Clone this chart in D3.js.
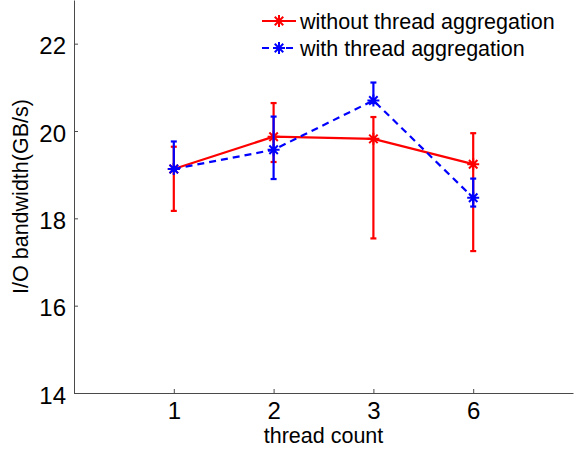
<!DOCTYPE html>
<html>
<head>
<meta charset="utf-8">
<script src="https://cdn.jsdelivr.net/npm/d3@7"></script>
<style>
  html, body { margin: 0; padding: 0; background: #fff; }
  svg { display: block; font-family: "Liberation Sans", Arial, Helvetica, sans-serif; }
</style>
</head>
<body>
<svg id="chart" width="575" height="451"></svg>
<script>
// Thread counts on the x axis (placed at positions 1..4)
const threadCounts = ["1", "2", "3", "6"];

// I/O bandwidth (GB/s): mean, upper and lower error-bar ends
const withoutMean  = [19.13, 19.87, 19.82, 19.24];
const withoutUpper = [19.64, 20.64, 20.32, 19.95];
const withoutLower = [18.17, 19.29, 17.54, 17.25];

const withMean  = [19.13, 19.57, 20.70, 18.47];
const withUpper = [19.76, 20.33, 21.11, 18.91];
const withLower = [19.09, 18.90, 20.64, 18.27];

const yTicks = [14, 16, 18, 20, 22];
const seriesNames = ["without thread aggregation", "with thread aggregation"];

const svg = d3.select("#chart");
const plotLeft = 74, plotRight = 573, plotTop = 0, plotBottom = 393;

const x = d3.scaleLinear().domain([0, 5]).range([plotLeft, plotRight]);
const y = d3.scaleLinear().domain([14, 23]).range([plotBottom, plotTop]);

const axisColor = "#4a4a4a";

// Axes (ticks point inward)
const yAxis = svg.append("g")
  .attr("transform", `translate(${plotLeft},0)`)
  .call(d3.axisLeft(y).tickValues(yTicks).tickSizeInner(-4).tickSizeOuter(0).tickPadding(8));
yAxis.select(".domain").attr("stroke", axisColor);
yAxis.selectAll(".tick line").attr("stroke", axisColor);
yAxis.selectAll(".tick text")
  .attr("font-size", 24).attr("fill", "#000").attr("dy", "0.42em")
  .attr("font-family", "Liberation Sans, Arial, sans-serif");

const xAxis = svg.append("g")
  .attr("transform", `translate(0,${plotBottom})`)
  .call(d3.axisBottom(x).tickValues([1, 2, 3, 4])
    .tickFormat((d) => threadCounts[d - 1])
    .tickSizeInner(-4).tickSizeOuter(0).tickPadding(9));
xAxis.select(".domain").attr("stroke", axisColor);
xAxis.selectAll(".tick line").attr("stroke", axisColor);
xAxis.selectAll(".tick text")
  .attr("font-size", 24).attr("fill", "#000")
  .attr("font-family", "Liberation Sans, Arial, sans-serif");

// Axis titles
svg.append("text")
  .attr("x", x(2.5)).attr("y", 443)
  .attr("text-anchor", "middle").attr("font-size", 21.5)
  .text("thread count");

svg.append("text")
  .attr("transform", `translate(28,${(plotTop + plotBottom) / 2}) rotate(-90)`)
  .attr("text-anchor", "middle").attr("font-size", 21.5)
  .text("I/O bandwidth(GB/s)");

// Asterisk marker: "+" and "x" combined
function asterisk(g, cx, cy, r, color) {
  const d = r * Math.SQRT1_2;
  const p = `M${cx - r},${cy}L${cx + r},${cy}M${cx},${cy - r}L${cx},${cy + r}` +
            `M${cx - d},${cy - d}L${cx + d},${cy + d}M${cx - d},${cy + d}L${cx + d},${cy - d}`;
  g.append("path").attr("d", p).attr("stroke", color).attr("stroke-width", 2).attr("fill", "none");
}

function drawSeries(mean, upper, lower, color, dash) {
  const g = svg.append("g");
  const idx = d3.range(mean.length);
  const line = d3.line().x((i) => x(i + 1)).y((i) => y(mean[i]));
  g.append("path").datum(idx).attr("d", line)
    .attr("fill", "none").attr("stroke", color).attr("stroke-width", 2.2)
    .attr("stroke-dasharray", dash);
  const cap = 3;
  idx.forEach((i) => {
    const cx = x(i + 1);
    g.append("line").attr("x1", cx).attr("x2", cx)
      .attr("y1", y(upper[i])).attr("y2", y(lower[i]))
      .attr("stroke", color).attr("stroke-width", 2.2);
    [upper[i], lower[i]].forEach((v) => {
      g.append("line").attr("x1", cx - cap).attr("x2", cx + cap)
        .attr("y1", y(v)).attr("y2", y(v))
        .attr("stroke", color).attr("stroke-width", 2.2);
    });
    asterisk(g, cx, y(mean[i]), 6, color);
  });
}

drawSeries(withoutMean, withoutUpper, withoutLower, "#ff0000", null);
drawSeries(withMean, withUpper, withLower, "#0000ff", "7,5");

// Legend
const legend = svg.append("g");
const legendRows = [
  { name: seriesNames[0], color: "#ff0000", dash: null, y: 21 },
  { name: seriesNames[1], color: "#0000ff", dash: "7,5", y: 48 }
];
legendRows.forEach((r) => {
  legend.append("line").attr("x1", 262).attr("x2", 296)
    .attr("y1", r.y).attr("y2", r.y)
    .attr("stroke", r.color).attr("stroke-width", 2.2)
    .attr("stroke-dasharray", r.dash);
  asterisk(legend, 279, r.y, 6, r.color);
  legend.append("text").attr("x", 300).attr("y", r.y + 7.5)
    .attr("font-size", 21.5).attr("fill", "#000").text(r.name);
});
</script>
</body>
</html>
